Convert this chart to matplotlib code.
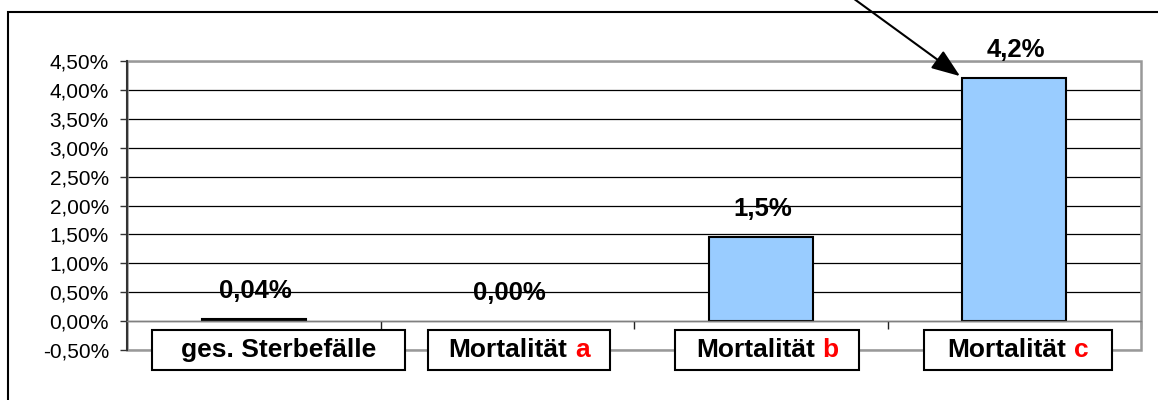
import matplotlib
matplotlib.use("Agg")
import matplotlib.pyplot as plt
import numpy as np
from matplotlib.path import Path
from matplotlib.patches import Rectangle
from matplotlib.ticker import FuncFormatter, MultipleLocator

plt.rcParams['font.family'] = ['Liberation Sans', 'DejaVu Sans']

# data
label_main = ["ges. Sterbefälle", "Mortalität", "Mortalität", "Mortalität"]
label_letter = ["", "a", "b", "c"]
values = [0.04, 0.00, 1.46, 4.21]
value_labels = ["0,04%", "0,00%", "1,5%", "4,2%"]

# per-label box padding / nudge (Excel layout quirks)
box_padx = [1.1, 0.78, 0.78, 0.88]
label_dx = [17.8, 8.5, 4.5, 2.7]


def label_box(padx, pady):
    # square box with separate horizontal / vertical padding
    def box(x0, y0, width, height, mutation_size):
        px = padx * mutation_size
        py = pady * mutation_size
        x0, y0 = x0 - px, y0 - py
        x1, y1 = x0 + width + 2 * px, y0 + height + 2 * py
        return Path([(x0, y0), (x1, y0), (x1, y1), (x0, y1), (x0, y0)], closed=True)
    return box


fig = plt.figure(figsize=(11.58, 4.0), dpi=100)
ax = fig.add_axes([127 / 1158, 50 / 400, 1014 / 1158, 289 / 400])

# outer chart frame (runs off the right / bottom edge)
fig.patches.append(Rectangle((8 / 1158, -0.5), 2, 1.47, transform=fig.transFigure,
                             fill=False, ec="black", lw=1.5, clip_on=False))

x = np.arange(len(values))
edge = ["black" if v != 0 else "none" for v in values]
ax.bar(x, values, width=0.41, color="#99CCFF", edgecolor=edge, linewidth=1.5, zorder=2)

ax.set_xlim(-0.5, len(values) - 0.5)
ax.set_ylim(-0.5, 4.5)
ax.yaxis.set_major_locator(MultipleLocator(0.5))
ax.yaxis.set_major_formatter(FuncFormatter(lambda v, p: f"{v:.2f}%".replace(".", ",")))
ax.tick_params(axis="y", labelsize=15, length=5, width=1, color="#333333", pad=8)

# category axis crosses at 0, ticks between categories
ax.set_xticks(x + 0.5)
ax.set_xticklabels([])
ax.tick_params(axis="x", length=6, width=1, color="#222222", direction="out")
ax.spines["bottom"].set_position(("data", 0))
ax.spines["bottom"].set_color("#808080")
ax.spines["bottom"].set_linewidth(1)
ax.spines["left"].set_color("#333333")
ax.spines["left"].set_linewidth(1.5)
ax.spines["top"].set_visible(False)
ax.spines["right"].set_visible(False)

ax.set_axisbelow(True)
ax.yaxis.grid(True, color="black", linewidth=0.9)
ax.add_patch(Rectangle((0, 0), 1, 1, transform=ax.transAxes, fill=False,
                       ec="#999999", lw=1.8, clip_on=False, zorder=1.5))

# value labels
for i, (v, lbl) in enumerate(zip(values, value_labels)):
    ax.annotate(lbl, xy=(i, v), xytext=(1.5, 15), textcoords="offset points",
                ha="center", va="baseline", fontsize=18.5, fontweight="bold", zorder=5)

# category labels in boxes, letter in red
for i, (main, letter) in enumerate(zip(label_main, label_letter)):
    full = main + (" " + letter if letter else "")
    t = ax.annotate(full, xy=(i, 0), xycoords=("data", "axes fraction"),
                    xytext=(label_dx[i], 0), textcoords="offset points",
                    ha="center", va="center", fontsize=19, fontweight="bold",
                    color="black" if not letter else "none", annotation_clip=False,
                    bbox=dict(boxstyle=label_box(box_padx[i], 0.32), fc="white",
                              ec="black", lw=1.5), zorder=4)
    if letter:
        ax.annotate(main, xy=(0, 0), xycoords=t, ha="left", va="bottom",
                    fontsize=19, fontweight="bold", color="black", zorder=5)
        ax.annotate(letter, xy=(1, 0), xycoords=t, ha="right", va="bottom",
                    fontsize=19, fontweight="bold", color="red", zorder=5)

# arrow pointing at the last bar
ax.annotate("", xy=(x[-1] - 0.41 / 2, values[-1]), xytext=(0.727, 1.025),
            textcoords="figure fraction",
            arrowprops=dict(arrowstyle="-|>,head_length=0.8,head_width=0.3",
                            mutation_scale=22, color="black", lw=1.5,
                            shrinkA=0, shrinkB=2), annotation_clip=False)

fig.savefig("out.png", dpi=100)
